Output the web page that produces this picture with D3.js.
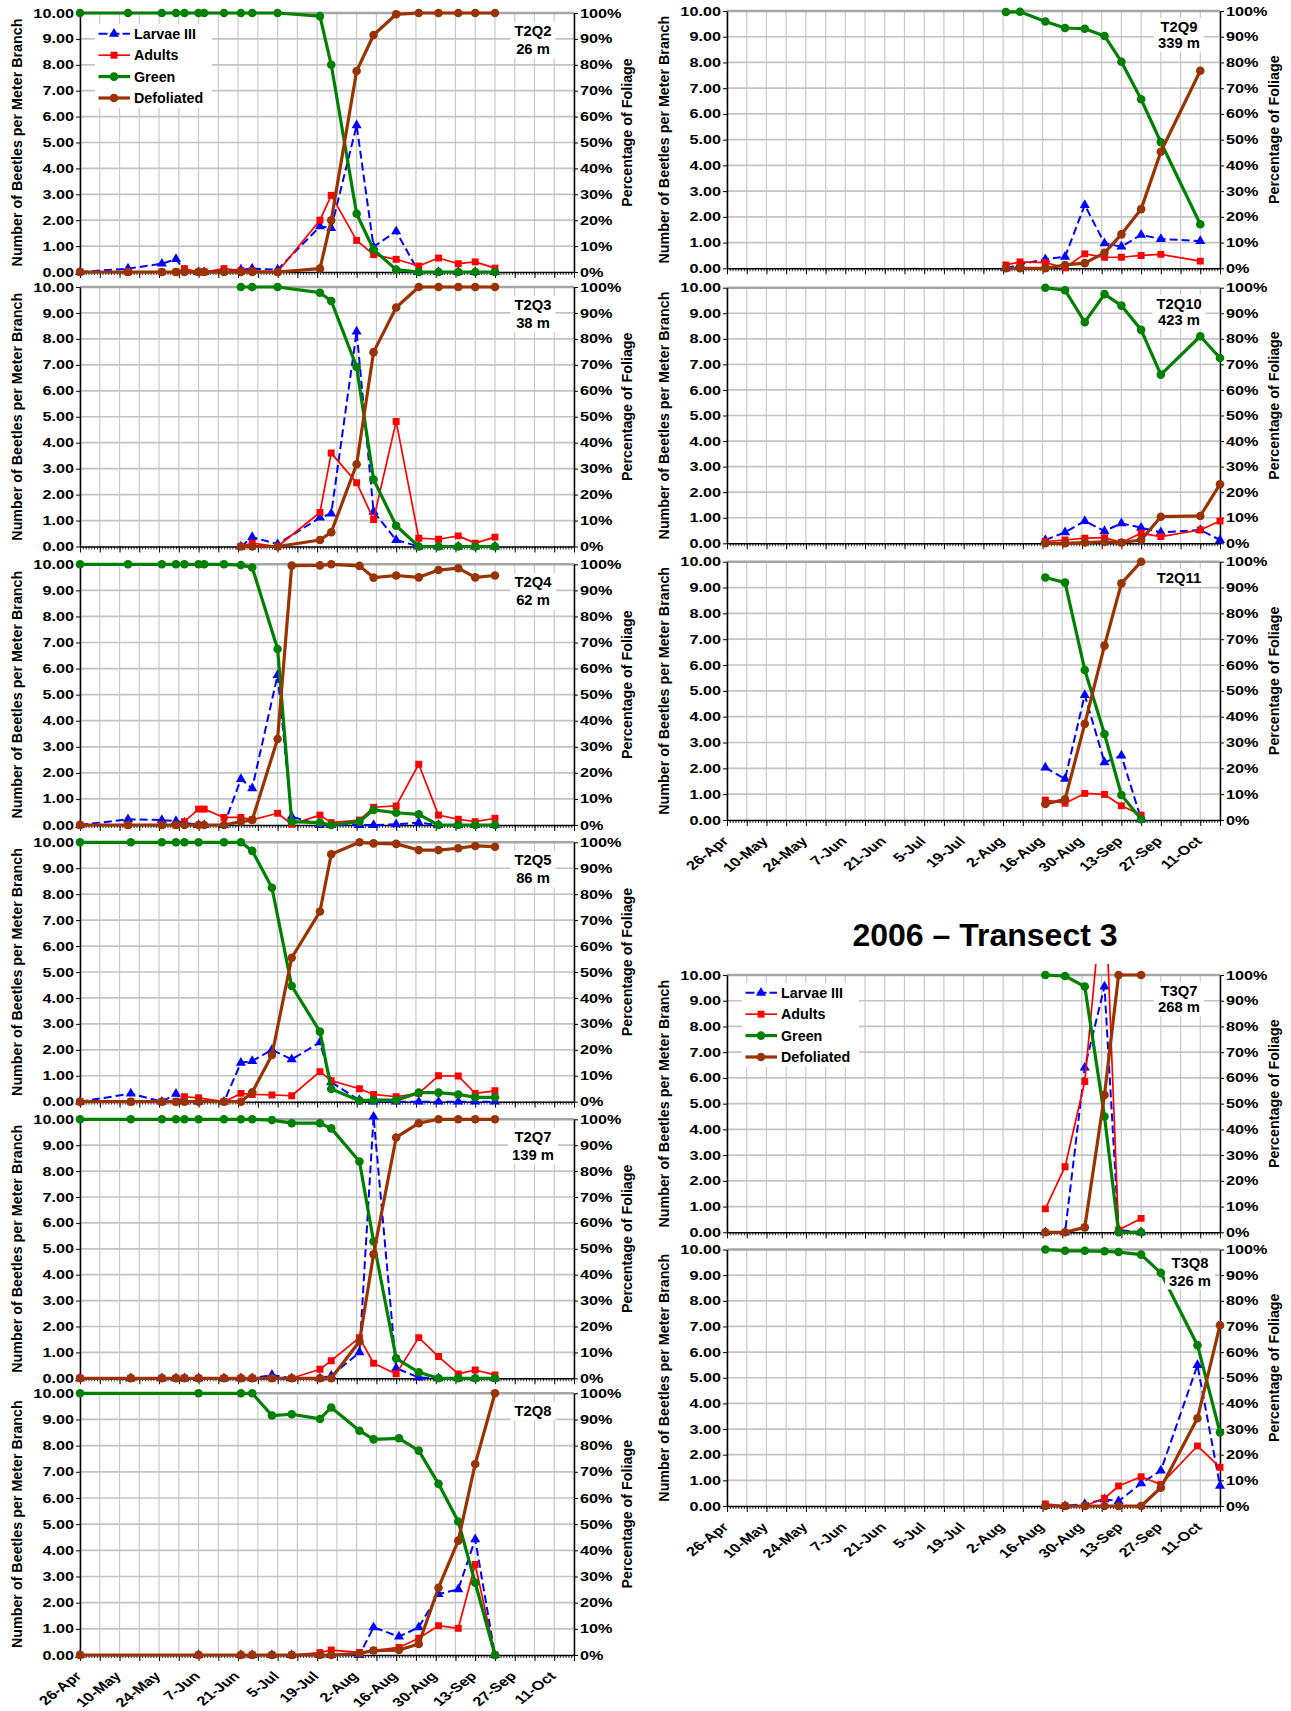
<!DOCTYPE html>
<html><head><meta charset="utf-8">
<script src="https://cdn.jsdelivr.net/npm/d3@7"></script>
<style>
html,body{margin:0;padding:0;background:#fff;}
svg{display:block;}
</style></head><body>
<svg id="chart" width="1291" height="1711"></svg>
<script>
// ---------------- DATA ----------------
const YEAR = 2006;
const tickLabels = ["26-Apr","10-May","24-May","7-Jun","21-Jun","5-Jul","19-Jul","2-Aug","16-Aug","30-Aug","13-Sep","27-Sep","11-Oct"];
const seriesNames = ["Larvae III","Adults","Green","Defoliated"];
const yTitleLeft = "Number of Beetles per Meter Branch";
const yTitleRight = "Percentage of Foliage";
const transectTitle = "2006 \u2013 Transect 3";

const T2Q2_dates  = ["04-26","05-13","05-25","05-30","06-02","06-07","06-09","06-16","06-22","06-26","07-05","07-20","07-24","08-02","08-08","08-16","08-24","08-31","09-07","09-13","09-20"];
const T2Q2_larvae = [0,0.13,0.32,0.5,0.06,0,0,0.06,0.09,0.13,0.09,1.76,1.7,5.66,0.97,1.57,0,0,0,0,0];
const T2Q2_adults = [0,0,0,0,0.13,0,0,0.13,0.05,0.05,0,2.0,2.96,1.22,0.67,0.49,0.23,0.54,0.32,0.39,0.15];
const T2Q2_green  = [100,100,100,100,100,100,100,100,100,100,100,98.8,80,22.5,8.6,0.9,0,0,0,0,0];
const T2Q2_defol  = [0,0,0,0,0,0,0,0,0,0,0,1.3,20,77.6,91.5,99.5,100,100,100,100,100];

const T2Q3_dates  = ["06-22","06-26","07-05","07-20","07-24","08-02","08-08","08-16","08-24","08-31","09-07","09-13","09-20"];
const T2Q3_larvae = [0,0.36,0.09,1.11,1.27,8.28,1.34,0.25,0,0,0,0,0];
const T2Q3_adults = [0,0.13,0,1.31,3.6,2.46,1.04,4.82,0.32,0.28,0.41,0.13,0.36];
const T2Q3_green  = [100,100,100,97.8,94.6,69.2,25.8,8.0,0,0,0,0,0];
const T2Q3_defol  = [0,0,0,2.5,5.5,31.7,74.9,92.1,100,100,100,100,100];

const T2Q4_dates  = ["04-26","05-13","05-25","05-30","06-02","06-07","06-09","06-16","06-22","06-26","07-05","07-10","07-20","07-24","08-03","08-08","08-16","08-24","08-31","09-07","09-13","09-20"];
const T2Q4_larvae = [0,0.22,0.19,0.15,0.09,0,0,0,1.76,1.41,5.75,0.32,0,0,0,0,0.03,0.09,0,0,0,0];
const T2Q4_adults = [0,0,0,0,0.13,0.61,0.61,0.29,0.29,0.2,0.45,0.03,0.38,0.09,0.19,0.68,0.73,2.33,0.38,0.22,0.13,0.26];
const T2Q4_green  = [100,100,100,100,100,100,100,100,99.7,98.8,67.5,1.3,0.9,0,1.3,5.8,4.7,4.1,0,0,0,0];
const T2Q4_defol  = [0,0,0,0,0,0,0,0,1.3,1.9,33,99.5,99.6,100,99.4,94.9,95.7,95,97.8,98.5,95,95.7];

const T2Q5_dates  = ["04-26","05-14","05-25","05-30","06-02","06-07","06-16","06-22","06-26","07-03","07-10","07-20","07-24","08-03","08-08","08-16","08-24","08-31","09-07","09-13","09-20"];
const T2Q5_larvae = [0,0.31,0,0.3,0,0,0,1.5,1.57,2.0,1.63,2.29,0.75,0.06,0,0,0,0,0,0,0];
const T2Q5_adults = [0,0,0,0,0.19,0.15,0,0.32,0.28,0.26,0.23,1.16,0.81,0.5,0.28,0.19,0.32,1.0,0.99,0.32,0.42];
const T2Q5_green  = [100,100,100,100,100,100,100,100,96.7,82.5,44.6,27,4.9,0.4,0.6,0.6,3.5,3.5,2.8,1.7,1.7];
const T2Q5_defol  = [0,0,0,0,0,0,0,0,3.6,18,55.5,73.3,95.4,100,99.6,99.4,97,97,97.7,98.6,98.3];

const T2Q7_dates  = ["04-26","05-14","05-25","05-30","06-02","06-07","06-16","06-22","06-26","07-03","07-10","07-20","07-24","08-03","08-08","08-16","08-24","08-31","09-07","09-13","09-20"];
const T2Q7_larvae = [0,0,0,0,0,0,0,0,0,0.13,0,0,0.1,1.0,10.1,0.39,0.03,0,0,0,0];
const T2Q7_adults = [0,0,0,0,0,0,0,0,0,0,0,0.35,0.68,1.57,0.58,0.17,1.57,0.84,0.17,0.32,0.13];
const T2Q7_green  = [100,100,100,100,100,100,100,100,100,99.7,98.5,98.5,96.5,83.7,52.8,7.7,2.3,0,0,0,0];
const T2Q7_defol  = [0,0,0,0,0,0,0,0,0,0,0,0,0,14.2,47.9,93,98.5,100,100,100,100];

const T2Q8_dates  = ["04-26","06-07","06-22","06-26","07-03","07-10","07-20","07-24","08-03","08-08","08-17","08-24","08-31","09-07","09-13","09-20"];
const T2Q8_larvae = [0,0,0,0,0,0,0,0,0,1.06,0.7,1.06,2.33,2.51,4.42,0];
const T2Q8_adults = [0,0,0,0,0,0,0.09,0.19,0.1,0.17,0.29,0.64,1.12,1.02,3.46,0];
const T2Q8_green  = [100,100,100,100,91.5,92,90.2,94.6,85.7,82.4,82.8,78.1,65.4,51,27.6,0];
const T2Q8_defol  = [0,0,0,0,0,0,0,0,0.6,1.7,1.9,4.2,25.7,43.7,73,100];

const T2Q9_dates  = ["08-03","08-08","08-17","08-24","08-31","09-07","09-13","09-20","09-27","10-11"];
const T2Q9_larvae = [0,0.15,0.35,0.45,2.46,0.97,0.84,1.3,1.14,1.06];
const T2Q9_adults = [0.13,0.25,0.22,0.02,0.56,0.43,0.43,0.5,0.54,0.28];
const T2Q9_green  = [99.6,99.7,95.9,93.4,93.1,90.3,80.3,65.7,49,17.1];
const T2Q9_defol  = [0,0,0,1.3,2,6,13.2,23,45.3,76.8];

const T2Q10_dates  = ["08-17","08-24","08-31","09-07","09-13","09-20","09-27","10-11","10-18"];
const T2Q10_larvae = [0.13,0.43,0.87,0.48,0.78,0.61,0.43,0.52,0.13];
const T2Q10_adults = [0.07,0.13,0.2,0.22,0.03,0.39,0.26,0.52,0.87];
const T2Q10_green  = [100,99,86.5,97.5,93,83.5,66,81,72.5];
const T2Q10_defol  = [0,0,0.3,0.6,0.3,1.3,10.4,10.7,23.1];

const T2Q11_dates  = ["08-17","08-24","08-31","09-07","09-13","09-20"];
const T2Q11_larvae = [2.03,1.59,4.84,2.23,2.49,0.03];
const T2Q11_adults = [0.77,0.65,1.03,0.99,0.55,0.19];
const T2Q11_green  = [93.9,91.9,58.1,33.3,9.7,0.3];
const T2Q11_defol  = [6.2,8,37.2,67.5,91.6,100];

const T3Q7_dates  = ["08-17","08-24","08-31","09-07","09-12","09-20"];
const T3Q7_larvae = [0,0,6.4,9.55,0.09,0];
const T3Q7_adults = [0.91,2.55,5.86,14,0.09,0.54];
const T3Q7_green  = [100,99.6,95.5,45,0,0];
const T3Q7_defol  = [0,0,1.9,53.4,100,100];

const T3Q8_dates  = ["08-17","08-24","08-31","09-07","09-12","09-20","09-27","10-10","10-18"];
const T3Q8_larvae = [0,0,0.08,0.26,0.19,0.88,1.38,5.49,0.79];
const T3Q8_adults = [0.08,0,0,0.3,0.78,1.14,0.84,2.34,1.51];
const T3Q8_green  = [100,99.5,99.5,99.3,99,98,90.9,62.7,28.7];
const T3Q8_defol  = [0,0,0,0,0,0,7.1,34.2,70.5];

// ---------------- LAYOUT ----------------
const FONT = '"Liberation Sans", Arial, Helvetica, sans-serif';
const SX = 1.28;
const COLS = {
  L: {x0: 80, x1: 574, titleL: 21.5, titleR: 632},
  R: {x0: 727, x1: 1220, titleL: 669, titleR: 1279}
};
const panels = [
  {lines:["T2Q2","26 m"], d:[T2Q2_dates,T2Q2_larvae,T2Q2_adults,T2Q2_green,T2Q2_defol], col:"L", top:13, bottom:272, legend:[95,24]},
  {lines:["T2Q3","38 m"], d:[T2Q3_dates,T2Q3_larvae,T2Q3_adults,T2Q3_green,T2Q3_defol], col:"L", top:287, bottom:546.5},
  {lines:["T2Q4","62 m"], d:[T2Q4_dates,T2Q4_larvae,T2Q4_adults,T2Q4_green,T2Q4_defol], col:"L", top:564.3, bottom:825},
  {lines:["T2Q5","86 m"], d:[T2Q5_dates,T2Q5_larvae,T2Q5_adults,T2Q5_green,T2Q5_defol], col:"L", top:842.3, bottom:1101.7},
  {lines:["T2Q7","139 m"], d:[T2Q7_dates,T2Q7_larvae,T2Q7_adults,T2Q7_green,T2Q7_defol], col:"L", top:1119.3, bottom:1378.3},
  {lines:["T2Q8"], d:[T2Q8_dates,T2Q8_larvae,T2Q8_adults,T2Q8_green,T2Q8_defol], col:"L", top:1393.3, bottom:1655, xlabels:true},
  {lines:["T2Q9","339 m"], d:[T2Q9_dates,T2Q9_larvae,T2Q9_adults,T2Q9_green,T2Q9_defol], col:"R", top:11, bottom:268.3},
  {lines:["T2Q10","423 m"], d:[T2Q10_dates,T2Q10_larvae,T2Q10_adults,T2Q10_green,T2Q10_defol], col:"R", top:287.7, bottom:543.3},
  {lines:["T2Q11"], d:[T2Q11_dates,T2Q11_larvae,T2Q11_adults,T2Q11_green,T2Q11_defol], col:"R", top:561.7, bottom:820, xlabels:true},
  {lines:["T3Q7","268 m"], d:[T3Q7_dates,T3Q7_larvae,T3Q7_adults,T3Q7_green,T3Q7_defol], col:"R", top:975, bottom:1232.3, legend:[742,983]},
  {lines:["T3Q8","326 m"], d:[T3Q8_dates,T3Q8_larvae,T3Q8_adults,T3Q8_green,T3Q8_defol], col:"R", top:1249.5, bottom:1506, xlabels:true, labelPos:[1190,18,18]}
];

const STYLE = [
  {color:"#0000ff", width:2, dash:"8,4", marker:"tri"},
  {color:"#ff0000", width:1.7, dash:null, marker:"sq"},
  {color:"#008000", width:3.2, dash:null, marker:"circ"},
  {color:"#993300", width:3.2, dash:null, marker:"circ"}
];

// ---------------- DRAW ----------------
const svg = d3.select("#chart").style("font-family", FONT).style("font-weight", "bold");
const parseTick = d3.utcParse("%d-%b-%Y");
const parseDay = d3.utcParse("%Y-%m-%d");
const tickDates = tickLabels.map(s => parseTick(s + "-" + YEAR));
const xStart = tickDates[0];
const xEnd = d3.utcDay.offset(xStart, 175);
const weekly = d3.range(0, 176, 7).map(k => d3.utcDay.offset(xStart, k));
const daily = d3.range(0, 176).map(k => d3.utcDay.offset(xStart, k));

function marker(sel, type, color){
  if (type === "circ") {
    sel.append("circle").attr("r", 4.3).attr("fill", color);
  } else if (type === "sq") {
    sel.append("path").attr("d", d3.symbol(d3.symbolSquare, 48)()).attr("fill", color);
  } else {
    sel.append("path").attr("d", d3.symbol(d3.symbolTriangle, 44)()).attr("fill", color);
  }
}

function styleAxis(g){
  g.attr("font-family", null).attr("font-size", null);
  g.select(".domain").attr("stroke", "#000").attr("stroke-width", 1.5);
  g.selectAll(".tick line").attr("stroke", "#000").attr("stroke-width", 1);
  g.selectAll(".tick text").attr("fill", "#000").style("font-size", "12.7px").style("font-weight", "bold");
}

panels.forEach((p, pi) => {
  const C = COLS[p.col];
  const X0 = C.x0, X1 = C.x1;
  const x = d3.scaleUtc().domain([xStart, xEnd]).range([X0, X1]);
  const y = d3.scaleLinear().domain([0, 10]).range([p.bottom, p.top]);
  const y2 = d3.scaleLinear().domain([0, 100]).range([p.bottom, p.top]);
  const g = svg.append("g");

  // gridlines
  g.append("g").selectAll("line").data(weekly).join("line")
    .attr("x1", d => x(d)).attr("x2", d => x(d)).attr("y1", p.top).attr("y2", p.bottom)
    .attr("stroke", "#c9c9c9").attr("stroke-width", 1.2);
  g.append("g").selectAll("line").data(d3.range(1, 10)).join("line")
    .attr("x1", X0).attr("x2", X1).attr("y1", d => y(d)).attr("y2", d => y(d))
    .attr("stroke", "#c4c4c4").attr("stroke-width", 1.7);
  g.append("line").attr("x1", X0).attr("x2", X1).attr("y1", y(10)).attr("y2", y(10))
    .attr("stroke", "#a6a6a6").attr("stroke-width", 2.6);

  // x axes
  const gxMinor = g.append("g").attr("transform", `translate(0,${p.bottom})`)
    .call(d3.axisBottom(x).tickValues(daily).tickSize(3).tickFormat(""));
  gxMinor.select(".domain").remove();
  gxMinor.selectAll(".tick line").attr("stroke", "#000").attr("stroke-width", 0.8);
  const gx = g.append("g").attr("transform", `translate(0,${p.bottom})`)
    .call(d3.axisBottom(x).tickValues(weekly).tickSizeInner(6).tickSizeOuter(0).tickFormat(""));
  styleAxis(gx);
  if (p.xlabels) {
    const gl = g.append("g").attr("transform", `translate(0,${p.bottom})`)
      .call(d3.axisBottom(x).tickValues(tickDates).tickSize(0).tickFormat((d, i) => tickLabels[i]));
    styleAxis(gl);
    gl.select(".domain").remove();
    gl.selectAll(".tick text")
      .style("font-size", "12.8px")
      .attr("x", 0).attr("y", 0).attr("dy", 0)
      .attr("text-anchor", "end")
      .attr("transform", `translate(2,22) scale(${SX},1) rotate(-45)`);
  }

  // y axes
  const gy = g.append("g").attr("transform", `translate(${X0},0)`)
    .call(d3.axisLeft(y).tickValues(d3.range(0, 11)).tickFormat(d3.format(".2f")).tickSizeInner(4).tickSizeOuter(0).tickPadding(2));
  styleAxis(gy);
  gy.selectAll(".tick text").attr("x", -6 / SX).attr("transform", `scale(${SX},1)`);
  const gy2 = g.append("g").attr("transform", `translate(${X1},0)`)
    .call(d3.axisRight(y2).tickValues(d3.range(0, 101, 10)).tickFormat(d => d + "%").tickSizeInner(4).tickSizeOuter(0).tickPadding(2));
  styleAxis(gy2);
  gy2.selectAll(".tick text").attr("x", 6 / SX).attr("transform", `scale(${SX},1)`);

  // axis titles
  const mid = (p.top + p.bottom) / 2;
  g.append("text").attr("transform", `translate(${C.titleL},${mid}) rotate(-90)`)
    .attr("text-anchor", "middle").style("font-size", "14.3px").attr("fill", "#000").text(yTitleLeft);
  g.append("text").attr("transform", `translate(${C.titleR},${mid - 10}) rotate(-90)`)
    .attr("text-anchor", "middle").style("font-size", "14.3px").attr("fill", "#000").text(yTitleRight);

  // series
  const clipId = "clip" + pi;
  svg.append("clipPath").attr("id", clipId).append("rect")
    .attr("x", X0 - 6).attr("y", p.top - 11).attr("width", X1 - X0 + 12).attr("height", p.bottom - p.top + 17);
  const sg = g.append("g").attr("clip-path", `url(#${clipId})`);
  const dates = p.d[0].map(s => parseDay(YEAR + "-" + s));
  for (let s = 0; s < 4; s++) {
    const vals = p.d[s + 1];
    const sc = s < 2 ? y : y2;
    const pts = dates.map((dt, i) => ({date: dt, v: vals[i]}));
    const st = STYLE[s];
    sg.append("path").datum(pts)
      .attr("d", d3.line().x(d => x(d.date)).y(d => sc(d.v)))
      .attr("fill", "none").attr("stroke", st.color).attr("stroke-width", st.width)
      .attr("stroke-linejoin", "round")
      .attr("stroke-dasharray", st.dash);
    sg.append("g").selectAll("g").data(pts).join("g")
      .attr("transform", d => `translate(${x(d.date)},${sc(d.v)})`)
      .each(function(){ marker(d3.select(this), st.marker, st.color); });
  }

  // panel label
  const lp = p.labelPos || (p.col === "L" ? [X1 - 41, 23, 18] : [X1 - 41, 21, 16]);
  const lg = g.append("g");
  const t = lg.append("text").attr("text-anchor", "middle").style("font-size", "14.8px").attr("fill", "#000");
  p.lines.forEach((ln, i) => t.append("tspan").attr("x", lp[0]).attr("y", p.top + lp[1] + i * lp[2]).text(ln));
  const bb = t.node().getBBox();
  lg.insert("rect", "text").attr("x", bb.x - 4).attr("y", bb.y - 1).attr("width", bb.width + 8).attr("height", bb.height + 2).attr("fill", "#fff");

  // legend
  if (p.legend) {
    const [lx, ly] = p.legend;
    const leg = g.append("g");
    leg.append("rect").attr("x", lx).attr("y", ly).attr("width", 117).attr("height", 84).attr("fill", "#fff");
    seriesNames.forEach((nm, i) => {
      const cy = ly + 9.8 + i * 21.4;
      const st = STYLE[i];
      leg.append("line").attr("x1", lx + 3.5).attr("x2", lx + 35).attr("y1", cy).attr("y2", cy)
        .attr("stroke", st.color).attr("stroke-width", st.width).attr("stroke-dasharray", st.dash ? "9,3" : null);
      marker(leg.append("g").attr("transform", `translate(${lx + 19},${cy})`), st.marker, st.color);
      leg.append("text").attr("x", lx + 39).attr("y", cy + 5).style("font-size", "14.3px").attr("fill", "#000").text(nm);
    });
  }
});

// transect title
svg.append("text").attr("x", 985).attr("y", 946).attr("text-anchor", "middle")
  .style("font-size", "32px").attr("fill", "#000").text(transectTitle);
</script>
</body></html>
